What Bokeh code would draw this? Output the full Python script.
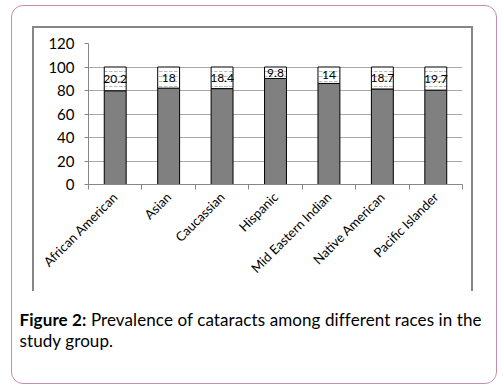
import math
from bokeh.plotting import figure
from bokeh.layouts import column
from bokeh.models import ColumnDataSource, FixedTicker, LabelSet, Range1d, Div
from bokeh.core.properties import value
from bokeh.embed import file_html
from bokeh.resources import INLINE

races = ["African American", "Asian", "Caucassian", "Hispanic",
         "Mid Eastern Indian", "Native American", "Pacific Islander"]
cataract = [79.8, 82, 81.6, 90.2, 86, 81.3, 80.3]
no_cataract = [20.2, 18, 18.4, 9.8, 14, 18.7, 19.7]
no_cataract_labels = ["20.2", "18", "18.4", "9.8", "14", "18.7", "19.7"]
y_ticks = [0, 20, 40, 60, 80, 100, 120]

FONT = "Lato"
xs = list(range(1, len(races) + 1))
total = [c + n for c, n in zip(cataract, no_cataract)]
mid = [c + n / 2 for c, n in zip(cataract, no_cataract)]
src = ColumnDataSource(dict(x=xs, cataract=cataract, total=total, mid=mid,
                            lab=no_cataract_labels))

p = figure(width=441, height=265, output_backend="svg", toolbar_location=None,
           x_range=Range1d(0.5, len(races) + 0.5), y_range=Range1d(0, 120),
           min_border_left=54, min_border_right=13, min_border_top=15, min_border_bottom=109)
p.outline_line_color = None
p.background_fill_color = "white"
p.border_fill_color = "white"
p.styles = {"border-left": "2px solid #868686", "border-right": "2px solid #868686",
            "border-top": "2px solid #868686"}

p.vbar(x="x", top="cataract", bottom=0, width=0.41, source=src,
       fill_color="#808080", line_color="black", line_width=1)
p.vbar(x="x", top="total", bottom="cataract", width=0.41, source=src,
       fill_color="white", line_color="black", line_width=1,
       hatch_pattern="horizontal_dash", hatch_color="#a8a8a8", hatch_scale=5, hatch_weight=0.8)
p.add_layout(LabelSet(x="x", y="mid", text="lab", source=src, text_align="center",
                      text_baseline="middle", text_font_size="12px", text_font=value(FONT),
                      text_color="black"))

xa = p.xaxis[0]
xa.ticker = FixedTicker(ticks=xs, minor_ticks=[x - 0.5 for x in xs] + [xs[-1] + 0.5])
xa.major_label_overrides = {x: r for x, r in zip(xs, races)}
xa.major_label_orientation = math.pi / 4
xa.major_tick_line_color = None
xa.minor_tick_in = 0
xa.minor_tick_out = 5
xa.minor_tick_line_color = "#868686"
xa.axis_line_color = "#868686"
xa.major_label_text_font = FONT
xa.major_label_text_font_size = "13px"
xa.major_label_text_color = "black"
xa.major_label_standoff = 4

ya = p.yaxis[0]
ya.ticker = FixedTicker(ticks=y_ticks)
ya.minor_tick_line_color = None
ya.major_tick_in = 0
ya.major_tick_out = 4
ya.major_tick_line_color = "#868686"
ya.axis_line_color = "#868686"
ya.major_label_text_font = FONT
ya.major_label_text_font_size = "15px"
ya.major_label_text_color = "black"
ya.major_label_standoff = 10

p.xgrid.grid_line_color = None
p.ygrid.grid_line_color = "#a8a8a8"
p.ygrid.ticker = FixedTicker(ticks=y_ticks)

caption = Div(
    text='<b>Figure 2:</b> Prevalence of cataracts among different races in the<br>study group.',
    width=472,
    styles={"font-family": "Lato", "font-size": "17px", "line-height": "21px",
            "letter-spacing": "0.1px", "white-space": "nowrap",
            "color": "black", "margin-top": "18px", "margin-left": "-12px",
            "margin-right": "-15px"})

col = column(p, caption,
             styles={"border": "1.5px solid #C58DB5", "border-radius": "12px",
                     "padding": "19.5px 19.5px 27.5px 19.5px",
                     "margin-left": "11px", "margin-top": "5px"})

open("out.html", "w").write(file_html(col, INLINE))
